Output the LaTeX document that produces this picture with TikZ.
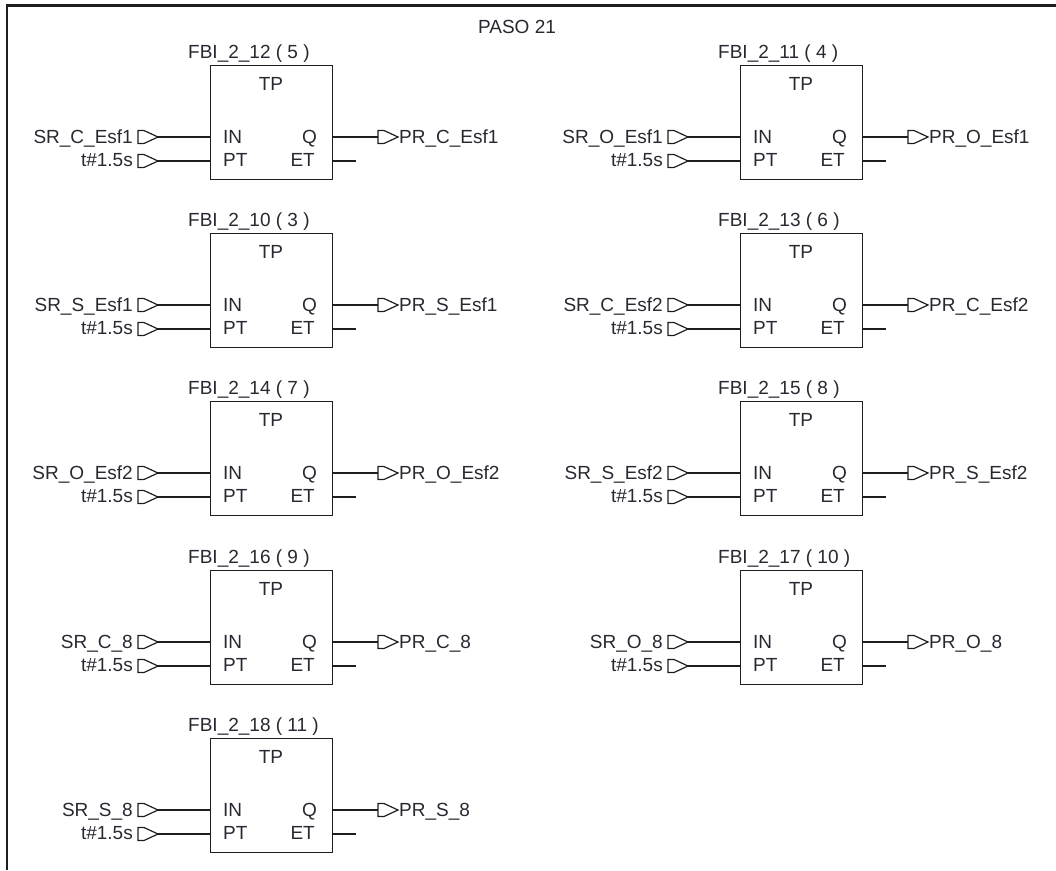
\documentclass[tikz,border=0pt]{standalone}
\usepackage{fontspec}
\setmainfont{Liberation Sans}
\usepackage{tikz}
\usetikzlibrary{calc}
\definecolor{wireblack}{RGB}{30, 30, 30}
\definecolor{textdark}{RGB}{40, 40, 50}

\tikzset{
  fbbox/.style={draw=wireblack, line width=1.4pt, minimum width=122pt, minimum height=114pt, inner sep=0pt, anchor=north west},
  sigtxt/.style={inner sep=0pt, text=textdark, font=\fontsize{19}{22}\selectfont},
  wire/.style={draw=wireblack, line width=1.3pt},
  sigmark/.style={draw=wireblack, line width=1.2pt}
}

% block: name, left x, top y, title, input signal, output signal
\newcommand{\tpblock}[6]{%
  \node[fbbox] (#1) at (#2,#3) {};
  \node[sigtxt, anchor=base west] (#1-title) at (#2-22,#3-7) {#4};
  \node[sigtxt, anchor=base] (#1-tp) at (#2+61,#3+25) {TP};
  \node[sigtxt, anchor=base west] (#1-IN) at (#2+13,#3+78) {IN};
  \node[sigtxt, anchor=base west] (#1-PT) at (#2+13,#3+101) {PT};
  \node[sigtxt, anchor=base east] (#1-Q) at (#2+107,#3+78) {Q};
  \node[sigtxt, anchor=base east] (#1-ET) at (#2+105,#3+101) {ET};
  % inputs
  \node[sigtxt, anchor=base east] (#1-inlbl) at (#2-77,#3+78) {#5};
  \node[sigtxt, anchor=base east] (#1-ptlbl) at (#2-77,#3+101) {t\#1.5s};
  \coordinate (#1-inmk) at (#2-72,#3+72);
  \coordinate (#1-ptmk) at (#2-72,#3+96);
  \draw[sigmark] ($(#1-inmk)+(6,-6.5)$) -- ++(-6,0) -- ++(0,13) -- ++(6,0) -- ++(14,-6.5) -- cycle;
  \draw[sigmark] ($(#1-ptmk)+(6,-6.5)$) -- ++(-6,0) -- ++(0,13) -- ++(6,0) -- ++(14,-6.5) -- cycle;
  \draw[wire] ($(#1-inmk)+(20,0)$) -- (#1.west |- #1-inmk);
  \draw[wire] ($(#1-ptmk)+(20,0)$) -- (#1.west |- #1-ptmk);
  % outputs
  \coordinate (#1-qmk) at (#2+168,#3+72);
  \coordinate (#1-etend) at (#2+146,#3+96);
  \draw[wire] (#1.east |- #1-qmk) -- (#1-qmk);
  \draw[wire] (#1.east |- #1-etend) -- (#1-etend);
  \draw[sigmark] ($(#1-qmk)+(6,-6.5)$) -- ++(-6,0) -- ++(0,13) -- ++(6,0) -- ++(14,-6.5) -- cycle;
  \node[sigtxt, anchor=base west] (#1-outlbl) at (#2+189,#3+78) {#6};
}

\begin{document}
\begin{tikzpicture}[x=1pt, y=-1pt]
  \useasboundingbox (0,0) rectangle (1056,870);
  % frame
  \draw[line width=2.2pt, wireblack] (7,870) -- (7,5.5) -- (1056,5.5);
  \node[sigtxt, anchor=base] (paso) at (517,33) {PASO 21};

  \tpblock{b5}{210}{65}{FBI\_2\_12 ( 5 )}{SR\_C\_Esf1}{PR\_C\_Esf1}
  \tpblock{b4}{740}{65}{FBI\_2\_11 ( 4 )}{SR\_O\_Esf1}{PR\_O\_Esf1}
  \tpblock{b3}{210}{233}{FBI\_2\_10 ( 3 )}{SR\_S\_Esf1}{PR\_S\_Esf1}
  \tpblock{b6}{740}{233}{FBI\_2\_13 ( 6 )}{SR\_C\_Esf2}{PR\_C\_Esf2}
  \tpblock{b7}{210}{401}{FBI\_2\_14 ( 7 )}{SR\_O\_Esf2}{PR\_O\_Esf2}
  \tpblock{b8}{740}{401}{FBI\_2\_15 ( 8 )}{SR\_S\_Esf2}{PR\_S\_Esf2}
  \tpblock{b9}{210}{570}{FBI\_2\_16 ( 9 )}{SR\_C\_8}{PR\_C\_8}
  \tpblock{b10}{740}{570}{FBI\_2\_17 ( 10 )}{SR\_O\_8}{PR\_O\_8}
  \tpblock{b11}{210}{738}{FBI\_2\_18 ( 11 )}{SR\_S\_8}{PR\_S\_8}
\end{tikzpicture}
\end{document}
